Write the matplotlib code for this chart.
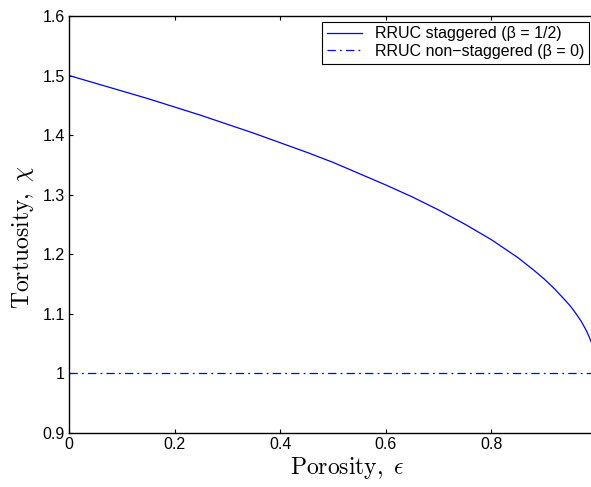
import matplotlib
matplotlib.use("Agg")
import matplotlib.pyplot as plt

# values
porosity = [0.0, 0.05, 0.1, 0.15, 0.2, 0.25, 0.3, 0.35, 0.4, 0.45, 0.5, 0.55,
            0.6, 0.65, 0.7, 0.75, 0.8, 0.85, 0.88, 0.9, 0.92, 0.94, 0.95,
            0.96, 0.97, 0.975, 0.98, 0.985, 0.99]
tort_staggered = [1.5, 1.487, 1.474, 1.461, 1.447, 1.433, 1.418, 1.403, 1.387,
                  1.371, 1.354, 1.335, 1.316, 1.296, 1.274, 1.25, 1.224, 1.194,
                  1.173, 1.158, 1.141, 1.122, 1.112, 1.1, 1.087, 1.079, 1.071,
                  1.061, 1.05]
porosity_flat = [0.0, 0.99]
tort_flat = [1.0, 1.0]

xticks = [0, 0.2, 0.4, 0.6, 0.8]
xticklabels = ["0", "0.2", "0.4", "0.6", "0.8"]
yticks = [0.9, 1.0, 1.1, 1.2, 1.3, 1.4, 1.5, 1.6]
yticklabels = ["0.9", "1", "1.1", "1.2", "1.3", "1.4", "1.5", "1.6"]

plt.rcParams['font.family'] = ['Liberation Sans', 'DejaVu Sans']
plt.rcParams['mathtext.fontset'] = 'cm'
plt.rcParams['lines.scale_dashes'] = False

W, H = 591, 487
fig = plt.figure(figsize=(W / 100, H / 100), dpi=100)
# axes box in pixels: left 69, right 597 (past the crop), top 16, bottom 432.5
ax = fig.add_axes([69 / W, 1 - 432.5 / H, (597 - 69) / W, (432.5 - 16) / H])

ax.plot(porosity, tort_staggered, color=(0, 0, 1), lw=0.9,
        label="RRUC staggered (\u03b2 = 1/2)")
ax.plot(porosity_flat, tort_flat, color=(0, 0, 1), lw=0.9,
        dashes=(6, 3, 1.3, 3), label="RRUC non\u2212staggered (\u03b2 = 0)")

ax.set_xlim(0, 1)
ax.set_ylim(0.9, 1.6)
ax.set_xticks(xticks)
ax.set_xticklabels(xticklabels)
ax.set_yticks(yticks)
ax.set_yticklabels(yticklabels)
ax.tick_params(direction='in', length=3.2, width=0.8, top=True, right=True,
               labelsize=11.5, pad=3)
for s in ax.spines.values():
    s.set_linewidth(1.0)

ax.set_xlabel(r"$\mathrm{Porosity},\ \epsilon$", fontsize=17)
ax.set_ylabel(r"$\mathrm{Tortuosity},\ \chi$", fontsize=17)
ax.xaxis.set_label_coords((347.5 - 69) / 528, -0.055)
ax.yaxis.set_label_coords(-0.062, 0.468)

leg = ax.legend(loc='upper right', bbox_to_anchor=(588.7 / W, 1 - 21.7 / H),
                bbox_transform=fig.transFigure, borderaxespad=0,
                fontsize=11.5, fancybox=False, framealpha=1, edgecolor='black',
                handlelength=2.2, handletextpad=0.8, labelspacing=0.15,
                borderpad=0.3)
leg.get_frame().set_linewidth(0.8)

fig.savefig("out.png", dpi=100)
